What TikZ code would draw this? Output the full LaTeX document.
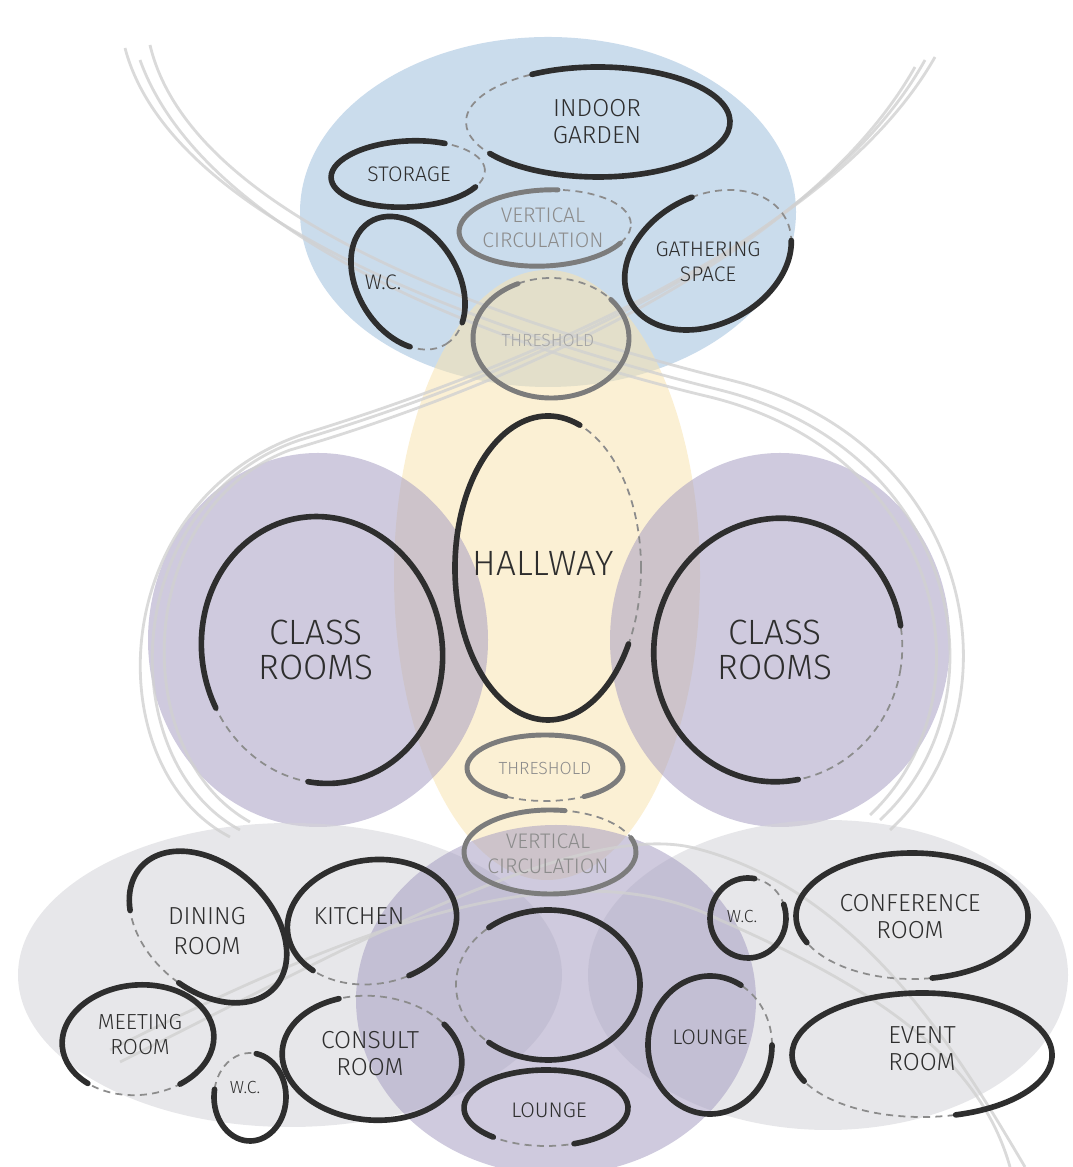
\documentclass[tikz,border=0pt]{standalone}
\usepackage{fontspec}
\setmainfont{Fira Sans Light}

\definecolor{zoneblue}{HTML}{9FBFDC}
\definecolor{zoneyellow}{HTML}{F8E3B0}
\definecolor{zonepurple}{HTML}{A79FC2}
\definecolor{zonegray}{HTML}{D4D4D9}
\definecolor{ink}{HTML}{2E2E2E}
\definecolor{inksoft}{HTML}{7C7C7C}

\tikzset{
  zone/.style={draw=none, fill opacity=0.55},
  swoosh/.style={draw=black!18, line width=0.8pt, opacity=0.8},
  brush/.style={draw=ink, line width=1.6pt, line cap=round},
  brushsoft/.style={draw=inksoft, line width=1.4pt, line cap=round},
  rough/.style={draw=black!45, line width=0.5pt, dash pattern=on 2pt off 1.5pt},
  tag/.style={align=center, inner sep=0pt, text=ink},
  tagsoft/.style={tag, text=black!45},
  small/.style={font=\fontsize{5}{6}\selectfont},
  mid/.style={font=\fontsize{6}{7}\selectfont},
  big/.style={font=\fontsize{7}{7.7}\selectfont},
  huge/.style={font=\fontsize{10}{9.7}\selectfont}
}

\begin{document}
\begin{tikzpicture}[x=0.01cm, y=0.01cm]

\useasboundingbox (0,0) rectangle (1072,1167);
\clip (0,0) rectangle (1072,1167);

% -------- zones -----------
\fill[zone, zoneblue]   (548,955) ellipse [x radius=248, y radius=175];
\fill[zone, zoneyellow] (547,592) ellipse [x radius=153, y radius=305];
\fill[zone, zonepurple] (318,527) ellipse [x radius=170, y radius=187];
\fill[zone, zonepurple] (780,527) ellipse [x radius=170, y radius=187];
\fill[zone, zonegray]   (290,192) ellipse [x radius=272, y radius=152];
\fill[zone, zonegray]   (828,192) ellipse [x radius=240, y radius=155];
\fill[zone, zonepurple] (556,167) ellipse [x radius=200, y radius=175];

% -------- swooshes -----------
\draw[swoosh] (125,1119) .. controls (170,947) and (480,837) .. (720,777) .. controls (960,717) and (1010,467) .. (880,347);
\draw[swoosh] (150,1122) .. controls (190,952) and (490,847) .. (730,787) .. controls (975,727) and (1025,462) .. (890,337);
\draw[swoosh] (140,1107) .. controls (200,940) and (470,827) .. (710,770) .. controls (945,712) and (995,470) .. (870,352);
\draw[swoosh] (925,1107) .. controls (820,917) and (500,787) .. (300,727) .. controls (120,667) and (110,407) .. (240,337);
\draw[swoosh] (915,1100) .. controls (805,905) and (490,775) .. (290,717) .. controls (135,660) and (125,415) .. (250,345);
\draw[swoosh] (935,1110) .. controls (830,925) and (510,797) .. (310,735) .. controls (105,672) and (95,400) .. (230,330);
\draw[swoosh] (110,117) .. controls (330,227) and (560,327) .. (720,247) .. controls (880,177) and (980,107) .. (1010,0);
\draw[swoosh] (120,105) .. controls (340,215) and (570,345) .. (690,320) .. controls (860,280) and (960,110) .. (1025,0);

% -------- upper floor -----------
\draw[rough, shift={(598,1045)}] (0,0) ellipse [x radius=132, y radius=55];
\draw[brush, shift={(598,1045)}] (215:132 and 55) arc [start angle=215, end angle=480, x radius=132, y radius=55];
\node[tag, big] (garden) at (597,1045) {INDOOR\\GARDEN};

\draw[rough, shift={(408,993)}, rotate=3] (0,0) ellipse [x radius=77, y radius=33];
\draw[brush, shift={(408,993)}, rotate=3] (60:77 and 33) arc [start angle=60, end angle=330, x radius=77, y radius=33];
\node[tag, mid] (storage) at (409,993) {STORAGE};

\draw[rough, shift={(545,939)}, rotate=3] (0,0) ellipse [x radius=86, y radius=38];
\draw[brushsoft, shift={(545,939)}, rotate=3] (80:86 and 38) arc [start angle=80, end angle=330, x radius=86, y radius=38];
\node[tagsoft, mid] (vcirctop) at (543,939) {VERTICAL\\CIRCULATION};

\draw[rough, shift={(408,884)}, rotate=-58] (0,0) ellipse [x radius=72, y radius=50];
\draw[brush, shift={(408,884)}, rotate=-58] (30:72 and 50) arc [start angle=30, end angle=320, x radius=72, y radius=50];
\node[tag, mid] (wctop) at (383,885) {W.C.};

\draw[rough, shift={(708,907)}, rotate=28] (0,0) ellipse [x radius=88, y radius=64];
\draw[brush, shift={(708,907)}, rotate=28] (80:88 and 64) arc [start angle=80, end angle=340, x radius=88, y radius=64];
\node[tag, mid] (gathering) at (708,905) {GATHERING\\SPACE};

\draw[rough, shift={(551,829)}] (0,0) ellipse [x radius=78, y radius=60];
\draw[brushsoft, shift={(551,829)}] (115:78 and 60) arc [start angle=115, end angle=400, x radius=78, y radius=60];
\node[tagsoft, small, text=black!35] (thresholdtop) at (548,827) {THRESHOLD};

% -------- middle floor -----------
\draw[rough, shift={(548,599)}] (0,0) ellipse [x radius=93, y radius=152];
\draw[brush, shift={(548,599)}] (70:93 and 152) arc [start angle=70, end angle=330, x radius=93, y radius=152];
\node[tag, huge] (hallway) at (543,604) {HALLWAY};

\draw[rough, shift={(322,517)}, rotate=12] (0,0) ellipse [x radius=120, y radius=134];
\draw[brush, shift={(322,517)}, rotate=12] (250:120 and 134) arc [start angle=250, end angle=555, x radius=120, y radius=134];
\node[tag, huge] (classleft) at (316,517) {CLASS\\ROOMS};

\draw[rough, shift={(778,517)}, rotate=-10] (0,0) ellipse [x radius=124, y radius=132];
\draw[brush, shift={(778,517)}, rotate=-10] (20:124 and 132) arc [start angle=20, end angle=290, x radius=124, y radius=132];
\node[tag, huge] (classright) at (775,517) {CLASS\\ROOMS};

\draw[rough, shift={(545,399)}] (0,0) ellipse [x radius=78, y radius=33];
\draw[brushsoft, shift={(545,399)}] (300:78 and 33) arc [start angle=300, end angle=600, x radius=78, y radius=33];
\node[tagsoft, small] (thresholdmid) at (545,399) {THRESHOLD};

\draw[rough, shift={(550,315)}] (0,0) ellipse [x radius=86, y radius=42];
\draw[brushsoft, shift={(550,315)}] (80:86 and 42) arc [start angle=80, end angle=380, x radius=86, y radius=42];
\node[tagsoft, mid] (vcircbot) at (548,313) {VERTICAL\\CIRCULATION};

% -------- lower floor -----------
\draw[rough, shift={(208,240)}, rotate=-42] (0,0) ellipse [x radius=90, y radius=62];
\draw[brush, shift={(208,240)}, rotate=-42] (-80:90 and 62) arc [start angle=-80, end angle=220, x radius=90, y radius=62];
\node[tag, big, font=\fontsize{7}{8.5}\selectfont] (dining) at (207,236) {DINING\\ROOM};

\draw[rough, shift={(372,245)}, rotate=8] (0,0) ellipse [x radius=85, y radius=62];
\draw[brush, shift={(372,245)}, rotate=8] (-70:85 and 62) arc [start angle=-70, end angle=220, x radius=85, y radius=62];
\node[tag, big] (kitchen) at (359,251) {KITCHEN};

\draw[rough, shift={(138,127)}, rotate=5] (0,0) ellipse [x radius=76, y radius=55];
\draw[brush, shift={(138,127)}, rotate=5] (-60:76 and 55) arc [start angle=-60, end angle=225, x radius=76, y radius=55];
\node[tag, mid, font=\fontsize{6.2}{7.1}\selectfont] (meeting) at (140,132) {MEETING\\ROOM};

\draw[rough, shift={(250,70)}] (0,0) ellipse [x radius=36, y radius=44];
\draw[brush, shift={(250,70)}] (170:36 and 44) arc [start angle=170, end angle=440, x radius=36, y radius=44];
\node[tag, small] (wcleft) at (245,80) {W.C.};

\draw[rough, shift={(372,109)}, rotate=-5] (0,0) ellipse [x radius=90, y radius=62];
\draw[brush, shift={(372,109)}, rotate=-5] (115:90 and 62) arc [start angle=115, end angle=400, x radius=90, y radius=62];
\node[tag, big] (consult) at (370,113) {CONSULT\\ROOM};

\draw[rough, shift={(548,182)}] (0,0) ellipse [x radius=92, y radius=75];
\draw[brush, shift={(548,182)}] (230:92 and 75) arc [start angle=230, end angle=490, x radius=92, y radius=75];

\draw[rough, shift={(546,59)}] (0,0) ellipse [x radius=82, y radius=38];
\draw[brush, shift={(546,59)}] (290:82 and 38) arc [start angle=290, end angle=590, x radius=82, y radius=38];
\node[tag, mid] (loungemid) at (549,57) {LOUNGE};

\draw[rough, shift={(748,249)}] (0,0) ellipse [x radius=38, y radius=40];
\draw[brush, shift={(748,249)}] (80:38 and 40) arc [start angle=80, end angle=380, x radius=38, y radius=40];
\node[tag, small] (wcright) at (742,251) {W.C.};

\draw[rough, shift={(912,251)}] (0,0) ellipse [x radius=116, y radius=63];
\draw[brush, shift={(912,251)}] (-80:116 and 63) arc [start angle=-80, end angle=205, x radius=116, y radius=63];
\node[tag, big] (conference) at (910,250) {CONFERENCE\\ROOM};

\draw[rough, shift={(710,122)}] (0,0) ellipse [x radius=62, y radius=69];
\draw[brush, shift={(710,122)}] (60:62 and 69) arc [start angle=60, end angle=360, x radius=62, y radius=69];
\node[tag, mid] (loungeright) at (710,130) {LOUNGE};

\draw[rough, shift={(922,112)}] (0,0) ellipse [x radius=130, y radius=62];
\draw[brush, shift={(922,112)}] (-75:130 and 62) arc [start angle=-75, end angle=205, x radius=130, y radius=62];
\node[tag, big] (event) at (922,118) {EVENT\\ROOM};

\end{tikzpicture}
\end{document}
